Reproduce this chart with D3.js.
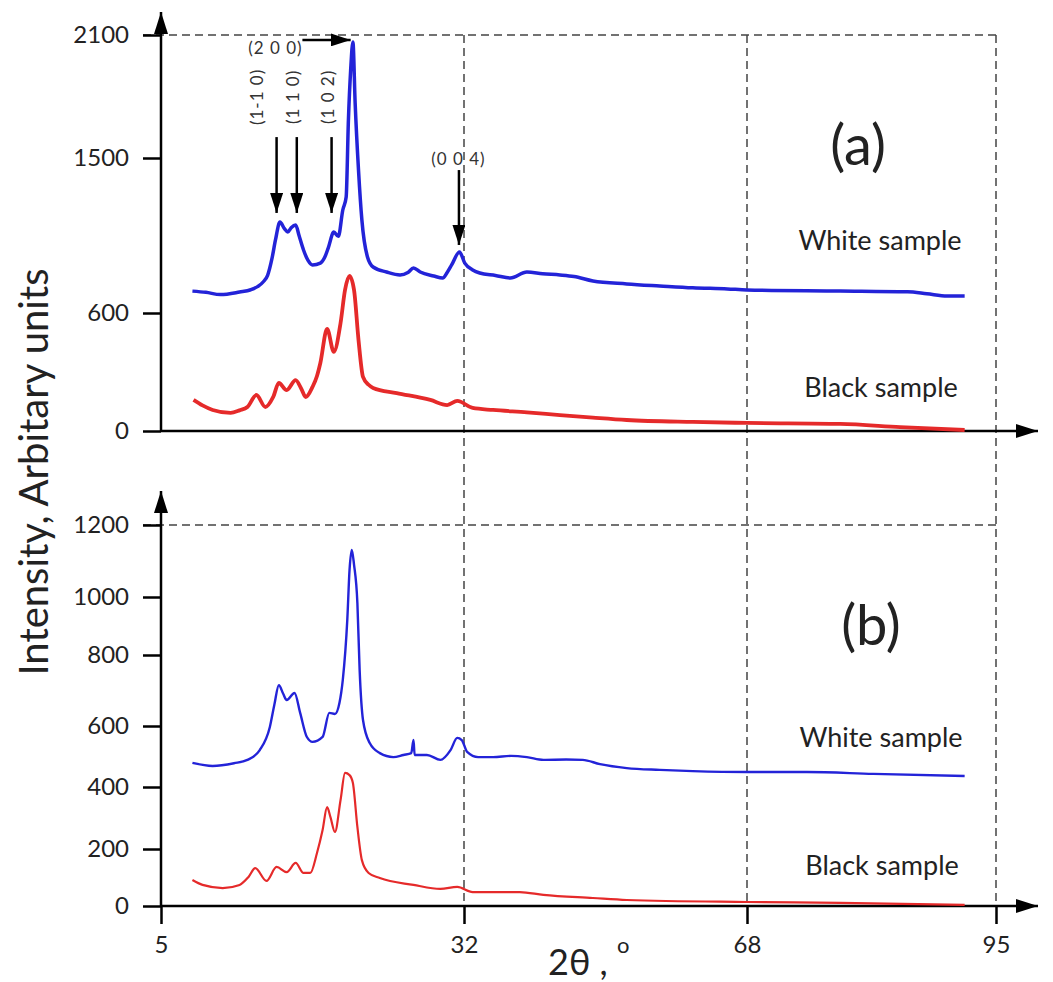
<!DOCTYPE html>
<html>
<head>
<meta charset="utf-8">
<script src="https://cdn.jsdelivr.net/npm/d3@7"></script>
<style>
  body { margin: 0; background: #fff; }
  text { font-family: Lato, "Open Sans", sans-serif; }
</style>
</head>
<body>
<svg id="chart" width="1053" height="982"></svg>
<script>
////  Data (2theta in degrees, intensity in arbitrary units)
var xTicks  = [5, 32, 68, 95];
var yTicksA = [0, 600, 1500, 2100];
var yTicksB = [0, 200, 400, 600, 800, 1000, 1200];

// panel (a)
var whiteA = [[7.8,727],[9.0,720],[10.3,707],[12.0,722],[13.0,735],[13.6,753],[14.1,780],[14.5,819],[14.9,920],[15.2,1024],
  [15.6,1128],[16.0,1090],[16.3,1070],[16.6,1095],[17.0,1111],[17.3,1050],[17.7,966],[18.1,905],[18.5,879],[19.2,890],
  [19.6,925],[19.9,977],[20.4,1070],[20.8,1045],[21.2,1198],[21.5,1273],[21.7,1685],[21.9,1929],[22.1,2066],
  [22.3,1768],[22.6,1430],[22.9,1140],[23.4,925],[23.9,867],[25.1,838],[26.3,821],[27.0,835],[27.5,861],[28.1,838],
  [29.3,815],[30.1,803],[30.5,835],[30.9,879],[31.6,954],[32.1,890],[33.1,850],[34.0,832],[36.0,818],[37.9,803],
  [40.0,838],[42.0,828],[44.2,821],[46.0,812],[48.4,786],[52.7,769],[56.9,757],[61.1,746],[65.5,740],[68,734],
  [78.1,728],[85.4,723],[87.5,712],[89.7,699],[91.6,699]];
var blackA = [[7.9,158],[8.7,130],[9.6,107],[11.2,92],[12.0,105],[12.7,122],[13.5,183],[14.3,122],[15.0,173],[15.5,244],
  [16.2,208],[17.0,259],[17.5,215],[17.9,173],[18.5,224],[18.9,280],[19.2,346],[19.8,519],[20.4,402],[21.0,549],
  [21.4,734],[21.8,815],[22.2,734],[22.6,463],[23.0,275],[23.5,235],[23.9,219],[26.0,193],[29.0,158],[30.5,132],
  [31.4,153],[33.1,117],[35.7,107],[40.0,95],[44.2,81],[48.4,68],[52.7,56],[61.1,46],[68,41],[78.1,36],[84.6,20],
  [91.6,5]];

// panel (b)
var whiteB = [[7.8,479],[9.6,469],[11.5,478],[12.7,489],[13.8,521],[14.7,597],[15.1,660],[15.5,715],[15.9,690],[16.2,673],
  [16.9,693],[17.4,637],[18.0,564],[18.5,548],[19.4,564],[20.0,637],[20.5,634],[20.9,665],[21.2,730],[21.6,921],
  [21.8,1075],[22.0,1131],[22.2,1090],[22.5,979],[22.7,758],[23.0,617],[23.6,544],[24.5,511],[25.7,498],[26.6,505],
  [27.3,511],[27.5,554],[27.6,505],[28.7,505],[29.9,489],[30.8,521],[31.4,561],[31.8,554],[32.4,515],[33.8,498],
  [35.7,498],[38.0,502],[40.0,498],[42.1,489],[45.0,490],[47.1,489],[49.3,475],[52.7,462],[56.9,456],[61.1,452],
  [68,449],[74.5,449],[81.7,443],[91.6,436]];
var blackB = [[7.8,91],[8.7,74],[10.5,63],[12.0,74],[12.8,102],[13.4,133],[14.4,88],[15.3,137],[16.2,119],
  [17.0,151],[17.7,116],[18.3,116],[18.9,186],[19.4,261],[19.8,335],[20.1,303],[20.5,255],[21.0,358],[21.4,446],
  [21.8,439],[22.1,413],[22.5,271],[22.9,161],[23.5,116],[24.5,98],[27.5,74],[29.9,60],[31.4,67],[33.1,49],
  [35.7,49],[39.1,49],[42.1,39],[48.4,28],[52.7,21],[68,14],[78.1,11],[91.6,4]];

// peak annotations (panel a)
var peakNames = ["(1-1 0)", "(1 1 0)", "(1 0 2)"];
var peakPos   = [15.3, 17.1, 20.2];

var blue = "#2323d8", red = "#e52a2a";

var svg = d3.select("#chart");

// scales (the figure's axes are not evenly spaced, so use polylinear scales)
var x  = d3.scaleLinear().domain(xTicks).range([161, 464, 747, 996]);
var yA = d3.scaleLinear().domain(yTicksA).range([431, 313, 158, 35]);
var yB = d3.scaleLinear().domain(yTicksB).range([906, 849, 787, 726, 655, 597, 525]);

// arrow heads
var defs = svg.append("defs");
function marker(id, len, wid) {
  defs.append("marker")
    .attr("id", id)
    .attr("viewBox", "0 0 10 10")
    .attr("refX", 10).attr("refY", 5)
    .attr("markerWidth", len).attr("markerHeight", wid)
    .attr("markerUnits", "userSpaceOnUse")
    .attr("preserveAspectRatio", "none")
    .attr("orient", "auto")
    .append("path").attr("d", "M0,0L10,5L0,10z").attr("fill", "#000");
}
marker("axArrow", 22, 14);
marker("pkArrow", 20, 13);

////  dashed guide lines
var dash = svg.append("g")
  .attr("stroke", "#444").attr("stroke-width", 1.5).attr("stroke-dasharray", "8,5").attr("fill", "none");
[32, 68, 95].forEach(function(v) {
  dash.append("line").attr("x1", x(v)).attr("x2", x(v)).attr("y1", yA(2100)).attr("y2", yB(0));
});
dash.append("line").attr("x1", x(5) - 18).attr("x2", x(95)).attr("y1", yA(2100)).attr("y2", yA(2100));
dash.append("line").attr("x1", x(5) - 18).attr("x2", x(95)).attr("y1", yB(1200)).attr("y2", yB(1200));

////  axes
function styleAxis(g) {
  g.select(".domain").remove();
  g.selectAll(".tick line").attr("stroke", "#000").attr("stroke-width", 2.5);
  g.selectAll(".tick text").attr("fill", "#222").style("font-size", "24px")
    .style("font-family", "Lato, 'Open Sans', sans-serif");
}
var fmt = d3.format("d");
svg.append("g").attr("transform", "translate(" + x(5) + ",0)")
  .call(d3.axisLeft(yA).tickValues(yTicksA).tickFormat(fmt).tickSize(18).tickPadding(14)).call(styleAxis);
svg.append("g").attr("transform", "translate(" + x(5) + ",0)")
  .call(d3.axisLeft(yB).tickValues(yTicksB).tickFormat(fmt).tickSize(18).tickPadding(14)).call(styleAxis);
svg.append("g").attr("transform", "translate(0," + yB(0) + ")")
  .call(d3.axisBottom(x).tickValues(xTicks).tickFormat(fmt).tickSize(18).tickPadding(12)).call(styleAxis);

var axes = svg.append("g").attr("stroke", "#000").attr("stroke-width", 2.5);
axes.append("line").attr("x1", x(5)).attr("x2", x(5)).attr("y1", yA(0)).attr("y2", 12)
  .attr("marker-end", "url(#axArrow)");
axes.append("line").attr("x1", x(5)).attr("x2", 1038).attr("y1", yA(0)).attr("y2", yA(0))
  .attr("marker-end", "url(#axArrow)");
axes.append("line").attr("x1", x(5)).attr("x2", x(5)).attr("y1", yB(0)).attr("y2", 491)
  .attr("marker-end", "url(#axArrow)");
axes.append("line").attr("x1", x(5)).attr("x2", 1038).attr("y1", yB(0)).attr("y2", yB(0))
  .attr("marker-end", "url(#axArrow)");

////  curves
function drawCurve(data, y, color, w) {
  svg.append("path")
    .datum(data)
    .attr("fill", "none")
    .attr("stroke", color)
    .attr("stroke-width", w)
    .attr("stroke-linejoin", "round")
    .attr("d", d3.line().curve(d3.curveMonotoneX)
      .x(function(d) { return x(d[0]); }).y(function(d) { return y(d[1]); }));
}
drawCurve(whiteA, yA, blue, 3.5);
drawCurve(blackA, yA, red, 3.8);
drawCurve(whiteB, yB, blue, 2.4);
drawCurve(blackB, yB, red, 2.2);

////  peak annotations
var ann = svg.append("g");
peakPos.forEach(function(p) {
  ann.append("line").attr("x1", x(p)).attr("x2", x(p)).attr("y1", yA(1602)).attr("y2", yA(1181))
    .attr("stroke", "#000").attr("stroke-width", 2.5).attr("marker-end", "url(#pkArrow)");
});
var labelX = [13.6, 16.8, 19.9];
peakNames.forEach(function(t, i) {
  ann.append("text")
    .attr("transform", "translate(" + x(labelX[i]) + "," + yA(1798) + ") rotate(-90)")
    .attr("text-anchor", "middle").attr("dy", "0.35em")
    .attr("fill", "#333").style("font-size", "17px").style("letter-spacing", "1px")
    .text(t);
});
// (2 0 0)
ann.append("line").attr("x1", x(17.6)).attr("x2", x(21.9)).attr("y1", yA(2076)).attr("y2", yA(2076))
  .attr("stroke", "#000").attr("stroke-width", 2.5).attr("marker-end", "url(#pkArrow)");
ann.append("text").attr("x", x(15.2)).attr("y", yA(2037)).attr("dy", "0.35em")
  .attr("text-anchor", "middle").attr("fill", "#333").style("font-size", "17px").style("letter-spacing", "1px")
  .text("(2 0 0)");
// (0 0 4)
ann.append("line").attr("x1", x(31.55)).attr("x2", x(31.55)).attr("y1", yA(1430)).attr("y2", yA(995))
  .attr("stroke", "#000").attr("stroke-width", 2.5).attr("marker-end", "url(#pkArrow)");
ann.append("text").attr("x", x(31.5)).attr("y", yA(1494)).attr("dy", "0.35em")
  .attr("text-anchor", "middle").attr("fill", "#333").style("font-size", "17px").style("letter-spacing", "1px")
  .text("(0 0 4)");

////  panel texts
function label(t, px, py, size) {
  svg.append("text").attr("x", px).attr("y", py).attr("text-anchor", "middle")
    .attr("fill", "#222").style("font-size", size + "px").text(t);
}
label("(a)", 858, 165, 56);
label("(b)", 871, 645, 56);
label("White sample", 880, 250, 27);
label("Black sample", 881, 397, 27);
label("White sample", 881, 747, 27);
label("Black sample", 882, 875, 27);

// axis titles
svg.append("text")
  .attr("transform", "translate(48,472) rotate(-90)")
  .attr("text-anchor", "middle").attr("fill", "#222").style("font-size", "40px")
  .text("Intensity, Arbitary units");
var xt = svg.append("text").attr("x", 548).attr("y", 975).attr("fill", "#222").style("font-size", "36px");
xt.append("tspan").text("2θ , ");
xt.append("tspan").attr("dy", "-22").style("font-size", "22px").text("o");
</script>
</body>
</html>
